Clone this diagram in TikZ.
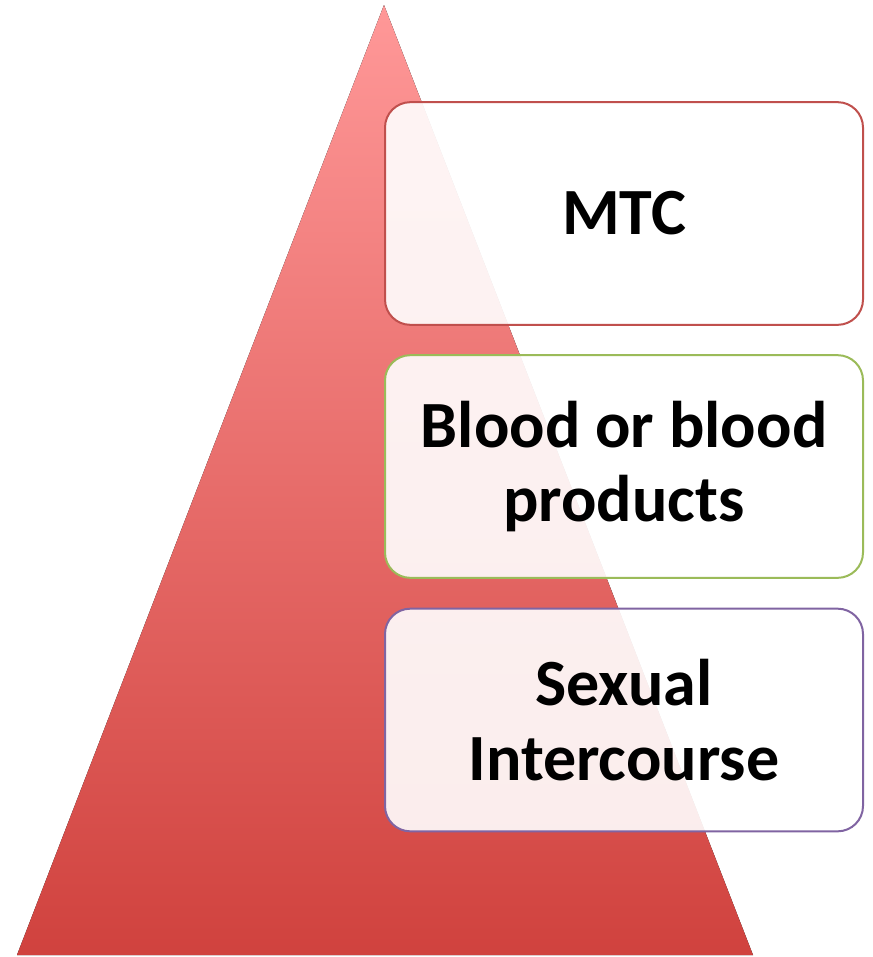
\documentclass[tikz,border=0pt]{standalone}
\usepackage{fontspec}
\setmainfont{Carlito}
\definecolor{tritop}{RGB}{255,152,152}
\definecolor{tribot}{RGB}{208,66,62}
\definecolor{bred}{RGB}{192,80,77}
\definecolor{bgreen}{RGB}{155,187,89}
\definecolor{bpurple}{RGB}{128,100,162}
\tikzset{
  tbox/.style={draw, line width=1.5pt, rounded corners=19pt, fill=white, fill opacity=0.9, text opacity=1,
    minimum width=358.5pt, minimum height=167pt, align=center,
    font=\fontsize{49.5}{56}\selectfont\bfseries, inner sep=0pt}
}
\begin{document}
\begin{tikzpicture}[x=0.75pt,y=-0.75pt]
\useasboundingbox (0,0) rectangle (872,957);
\fill[top color=tritop, bottom color=tribot] (384,5) -- (753,955) -- (17,955) -- cycle;
\node[tbox, draw=bred] (mtc) at (624,213.5) {MTC};
\node[tbox, draw=bgreen] (blood) at (624,466.5) {Blood or blood\\products};
\node[tbox, draw=bpurple] (sex) at (624,720) {Sexual\\Intercourse};
\end{tikzpicture}
\end{document}
